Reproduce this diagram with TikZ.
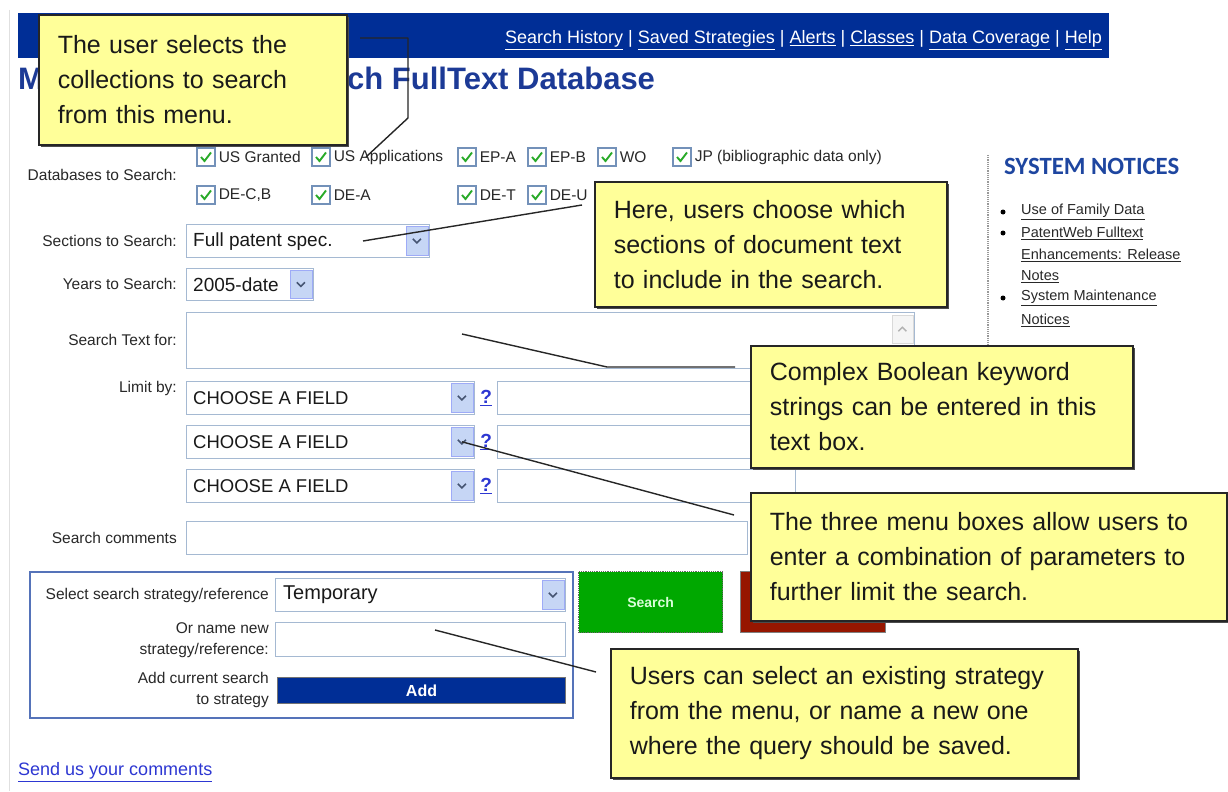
\documentclass[tikz,border=0pt]{standalone}
\usepackage{fontspec}
\setmainfont{Liberation Sans}
\newfontfamily\noticefont{Carlito}
\usetikzlibrary{shadows}

\definecolor{hdrblue}{RGB}{0,46,150}
\definecolor{titleblue}{RGB}{28,58,150}
\definecolor{fieldline}{RGB}{165,185,210}
\definecolor{btnfill}{RGB}{198,214,245}
\definecolor{chevcol}{RGB}{70,85,115}
\definecolor{labelgrey}{RGB}{40,40,40}
\definecolor{linkblue}{RGB}{45,55,210}
\definecolor{noteyellow}{RGB}{255,255,153}
\definecolor{okgreen}{RGB}{0,168,0}
\definecolor{stopred}{RGB}{150,22,0}
\definecolor{panelblue}{RGB}{85,115,185}
\definecolor{checkgreen}{RGB}{40,170,40}
\definecolor{boxline}{RGB}{115,145,185}
\definecolor{noticeblue}{RGB}{30,70,160}

\begin{document}
\begin{tikzpicture}[x=1pt,y=-1pt,
  lbl/.style={anchor=east, inner sep=0, text=labelgrey, font=\fontsize{15.5}{21}\selectfont},
  cbtxt/.style={anchor=west, inner sep=0, text=labelgrey, font=\fontsize{15.5}{18}\selectfont},
  opt/.style={anchor=west, inner sep=0, text=black!90, font=\fontsize{19}{22}\selectfont},
  field/.style={draw=fieldline, line width=1.2pt, fill=white, rectangle, inner sep=0, anchor=north west},
  ddbtn/.style={fill=btnfill, draw=btnfill!80!blue, line width=0.6pt, inner sep=0,
    minimum width=22, minimum height=29, anchor=north east,
    path picture={\draw[chevcol, line width=1.6pt]
      ([shift={(-4,-2)}]path picture bounding box.center) --
      ([shift={(0,2)}]path picture bounding box.center) --
      ([shift={(4,-2)}]path picture bounding box.center);}},
  chk/.style={draw=boxline, fill=white, line width=1.2pt, minimum size=18, inner sep=0,
    path picture={\draw[checkgreen, line width=1.9pt]
      ([shift={(-5,0)}]path picture bounding box.center) --
      ([shift={(-1.5,4)}]path picture bounding box.center) --
      ([shift={(5,-4.5)}]path picture bounding box.center);}},
  qlink/.style={inner sep=0, text=linkblue, font=\fontsize{19}{20}\selectfont\bfseries},
  notice/.style={anchor=west, inner sep=0, text=labelgrey, font=\fontsize{14.5}{17}\selectfont},
  bullet/.style={circle, fill=black, inner sep=0, minimum size=5},
  callout/.style={draw=black!85, line width=1.6pt, fill=noteyellow,
    general shadow={fill=black!70, shadow xshift=2.5pt, shadow yshift=-2.5pt},
    align=left, inner xsep=19pt, inner ysep=0pt, anchor=north west,
    font=\fontsize{25}{35}\selectfont, text=black!90},
  leader/.style={draw=black!85, line width=1.4pt, line join=round}
]
% page
\path[fill=white] (0,0) rectangle (1228,791);
\draw[black!12, line width=1pt] (9,10) -- (9,791);

% header bar with navigation links
\node[fill=hdrblue, minimum width=1091, minimum height=45, anchor=north west, inner sep=0] (header) at (18,13) {};
\node[anchor=east, inner sep=0, text=white, font=\fontsize{18}{20}\selectfont] (navlinks) at (1102,40)
  {\underline{Search History} | \underline{Saved Strategies} | \underline{Alerts} | \underline{Classes} | \underline{Data Coverage} | \underline{Help}};

% page title
\node[anchor=base west, inner sep=0, text=titleblue, font=\fontsize{31}{36}\selectfont\bfseries] (titleM) at (18,90) {M};
\node[anchor=base west, inner sep=0, text=titleblue, font=\fontsize{31}{36}\selectfont\bfseries] (titleRest) at (347,90) {ch FullText Database};

% databases
\node[lbl] (lblDb) at (177,175) {Databases to Search:};
\node[chk] (cbUSG) at (206,157) {};   \node[cbtxt] (tUSG) at ([xshift=3]cbUSG.east) {US Granted};
\node[chk] (cbUSA) at (321,157) {};   \node[cbtxt] (tUSA) at ([xshift=3]cbUSA.east) {US Applications};
\node[chk] (cbEPA) at (467,157) {};   \node[cbtxt] (tEPA) at ([xshift=3]cbEPA.east) {EP-A};
\node[chk] (cbEPB) at (537,157) {};   \node[cbtxt] (tEPB) at ([xshift=3]cbEPB.east) {EP-B};
\node[chk] (cbWO) at (607,157) {};    \node[cbtxt] (tWO) at ([xshift=3]cbWO.east) {WO};
\node[chk] (cbJP) at (682,157) {};    \node[cbtxt] (tJP) at ([xshift=3]cbJP.east) {JP (bibliographic data only)};
\node[chk] (cbDECB) at (206,195) {};  \node[cbtxt] (tDECB) at ([xshift=3]cbDECB.east) {DE-C,B};
\node[chk] (cbDEA) at (321,195) {};   \node[cbtxt] (tDEA) at ([xshift=3]cbDEA.east) {DE-A};
\node[chk] (cbDET) at (467,195) {};   \node[cbtxt] (tDET) at ([xshift=3]cbDET.east) {DE-T};
\node[chk] (cbDEU) at (537,195) {};   \node[cbtxt] (tDEU) at ([xshift=3]cbDEU.east) {DE-U};

% sections
\node[lbl] (lblSec) at (177,241) {Sections to Search:};
\node[field, minimum width=243, minimum height=33] (secDD) at (186,224) {};
\node[ddbtn] (secBtn) at ([shift={(-2,2)}]secDD.north east) {};
\node[opt] (secTxt) at ([xshift=7]secDD.west) {Full patent spec.};

% years
\node[lbl] (lblYrs) at (177,284) {Years to Search:};
\node[field, minimum width=127, minimum height=32] (yrsDD) at (186,268) {};
\node[ddbtn, minimum height=28] (yrsBtn) at ([shift={(-2,2)}]yrsDD.north east) {};
\node[opt] (yrsTxt) at ([xshift=7]yrsDD.west) {2005-date};

% search text
\node[lbl] (lblText) at (177,340) {Search Text for:};
\node[field, minimum width=728, minimum height=56] (textArea) at (186,312) {};
\node[fill=black!4, draw=black!15, line width=0.6pt, inner sep=0, minimum width=21, minimum height=28, anchor=north east,
  path picture={\draw[black!30, line width=1.4pt]
    ([shift={(-4,2)}]path picture bounding box.center) --
    ([shift={(0,-2)}]path picture bounding box.center) --
    ([shift={(4,2)}]path picture bounding box.center);}] (taScroll) at ([shift={(-2,3)}]textArea.north east) {};

% limit by
\node[lbl, anchor=north east] (lblLimit) at (177,381) {Limit by:};
\foreach \r/\y in {1/381, 2/425, 3/469} {
  \node[field, minimum width=288, minimum height=33] (lim\r) at (186,\y) {};
  \node[ddbtn] (lim\r btn) at ([shift={(-2,2)}]lim\r.north east) {};
  \node[opt, font=\fontsize{18.5}{22}\selectfont] (lim\r txt) at ([xshift=7]lim\r.west) {CHOOSE A FIELD};
  \node[qlink] (lim\r q) at ([xshift=11]lim\r.east) {\underline{?}};
  \node[field, minimum width=298, minimum height=33] (lim\r val) at (497,\y) {};
}

% comments
\node[lbl] (lblCom) at (177,538) {Search comments};
\node[field, minimum width=561, minimum height=33] (comField) at (186,521) {};

% strategy panel
\node[draw=panelblue, line width=1.5pt, minimum width=543, minimum height=146, anchor=north west, inner sep=0] (panel) at (29,571) {};
\node[lbl] (lblStrat) at (269,595) {Select search strategy/reference};
\node[field, minimum width=290, minimum height=33] (stratDD) at (275,578) {};
\node[ddbtn] (stratBtn) at ([shift={(-2,2)}]stratDD.north east) {};
\node[opt, font=\fontsize{20}{22}\selectfont] (stratTxt) at ([xshift=8]stratDD.west) {Temporary};
\node[lbl, align=right] (lblName) at (269,640) {Or name new\\strategy/reference:};
\node[field, minimum width=290, minimum height=34] (nameField) at (275,622) {};
\node[lbl, align=right] (lblAdd) at (269,689.5) {Add current search\\to strategy};
\node[fill=hdrblue, draw=black!55, line width=1pt, minimum width=288, minimum height=26, anchor=north west, inner sep=0,
  text=white, font=\fontsize{16}{18}\selectfont\bfseries] (addBtn) at (277,677) {Add};

% action buttons
\node[fill=okgreen, draw=black!60, densely dotted, line width=1.2pt, minimum width=144, minimum height=61, anchor=north west, inner sep=0,
  text=white!85!green, font=\fontsize{14}{16}\selectfont\bfseries] (searchBtn) at (578,571) {Search};
\node[fill=stopred, draw=black!50, line width=1pt, minimum width=145, minimum height=61, anchor=north west, inner sep=0] (clearBtn) at (740,571) {};

% footer link
\node[anchor=west, inner sep=0, text=linkblue, font=\fontsize{18}{20}\selectfont] (sendLink) at (18,772) {\underline{Send us your comments}};

% system notices column
\draw[black!40, densely dotted, line width=1.2pt] (988,155) -- (988,345);
\node[anchor=west, inner sep=0, text=noticeblue, font=\fontsize{24.8}{26}\noticefont\bfseries] (notTitle) at (1004,166) {SYSTEM NOTICES};
\node[bullet] (bu1) at (1003,212) {};
\node[notice] (n1) at (1021,212) {\underline{Use of Family Data}};
\node[bullet] (bu2) at (1003,233) {};
\node[notice] (n2a) at (1021,233) {\underline{PatentWeb Fulltext}};
\node[notice] (n2b) at (1021,255) {\underline{Enhancements: Release}};
\node[notice] (n2c) at (1021,277) {\underline{Notes}};
\node[bullet] (bu3) at (1003,298) {};
\node[notice] (n3a) at (1021,298) {\underline{System Maintenance}};
\node[notice] (n3b) at (1021,320) {\underline{Notices}};

% callouts
\node[callout, text width=270, minimum height=130] (noteDb) at (38,14)
  {The user selects the\\collections to search\\from this menu.};
\node[callout, text width=314, minimum height=125] (noteSec) at (594,181)
  {Here, users choose which\\sections of document text\\to include in the search.};
\node[callout, text width=344, minimum height=122] (noteText) at (750,345)
  {Complex Boolean keyword\\strings can be entered in this\\text box.};
\node[callout, text width=438, minimum height=128] (noteLimit) at (750,492)
  {The three menu boxes allow users to\\enter a combination of parameters to\\further limit the search.};
\node[callout, text width=429, minimum height=129] (noteStrat) at (610,648)
  {Users can select an existing strategy\\from the menu, or name a new one\\where the query should be saved.};

% leader lines
\coordinate (k1a) at (360,38);
\coordinate (k1b) at (366,157);
\draw[leader] (k1a) -- (408,38) -- (408,118) -- (k1b);
\coordinate (k2a) at (582,205);
\coordinate (k2b) at (363,241);
\draw[leader] (k2a) -- (k2b);
\coordinate (k3a) at (735,367);
\coordinate (k3b) at (462,334);
\draw[leader] (k3a) -- (607,367) -- (k3b);
\coordinate (k4a) at (734,515);
\draw[leader] (k4a) -- (lim2btn.center);
\coordinate (k5a) at (596,672);
\coordinate (k5b) at (435,630);
\draw[leader] (k5a) -- (k5b);
\end{tikzpicture}
\end{document}
